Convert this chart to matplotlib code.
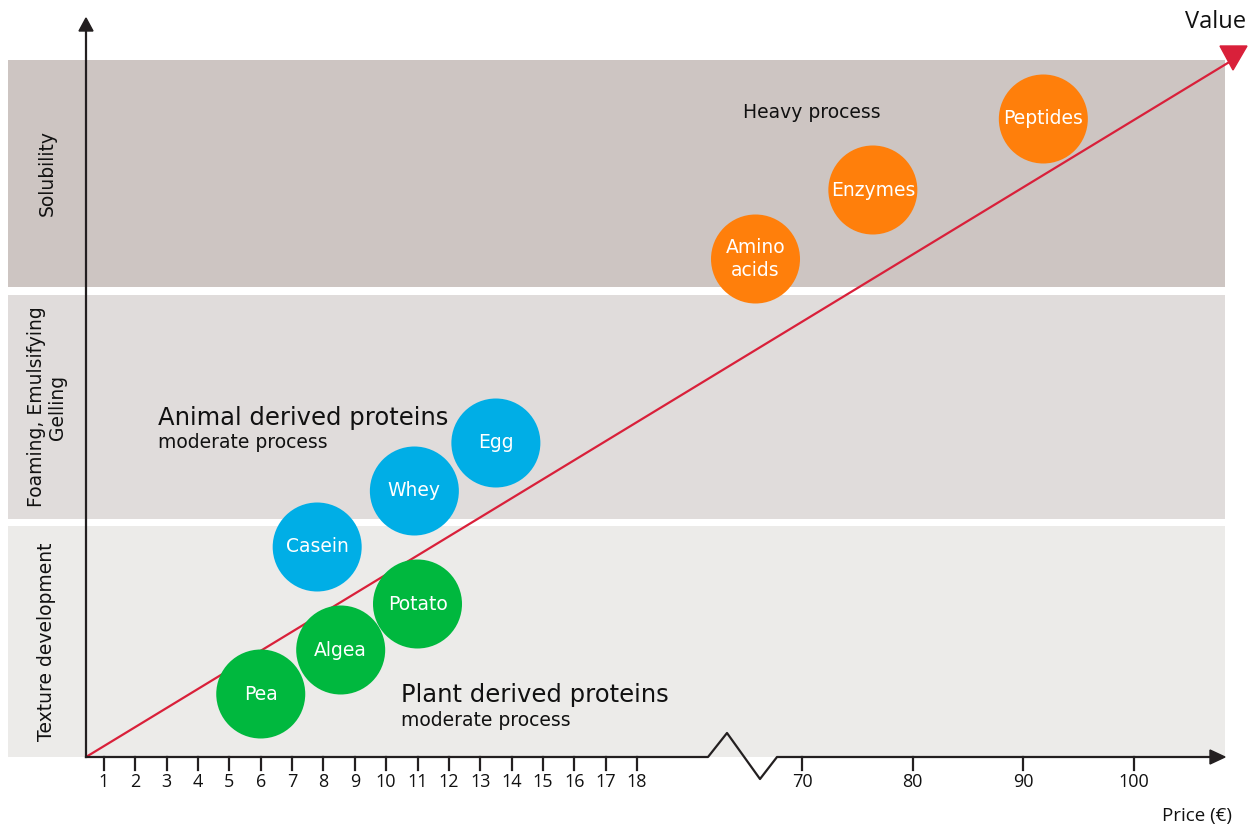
import numpy as np
import matplotlib.pyplot as plt
from matplotlib.patches import Circle, Polygon, Rectangle

# tick values on the broken price axis
low_ticks = list(range(1, 19))
high_ticks = [70, 80, 90, 100]

# proteins: name, price, value level, group
names = ['Pea', 'Algea', 'Potato', 'Casein', 'Whey', 'Egg',
         'Amino\nacids', 'Enzymes', 'Peptides']
prices = [6, 8.55, 11, 7.8, 10.9, 13.5, 65.8, 76.4, 91.8]
values = [63, 107, 153, 210, 266, 314, 498, 567, 638]
groups = ['plant', 'plant', 'plant', 'animal', 'animal', 'animal',
          'heavy', 'heavy', 'heavy']
colors = {'plant': '#00b83e', 'animal': '#00aee6', 'heavy': '#ff7f0b'}

# functional bands (value range), label
band_lo = [0, 238, 470]
band_hi = [231, 462, 697]
band_col = ['#ecebe9', '#e0dcdb', '#cdc5c2']
band_lab = ['Texture development', 'Foaming, Emulsifying\nGelling', 'Solubility']

W, H = 1251, 826
Y0 = 757      # pixel row of the price axis
X0 = 86       # pixel column of the value axis


def px(p):
    # piecewise price scale: 1..18 on the left, 70..100 after the break
    p = np.asarray(p, dtype=float)
    return np.where(p <= 30, 104 + (p - 1) * 31.35, 802 + (p - 70) * 11.07)


def py(v):
    return Y0 - np.asarray(v, dtype=float)


fig = plt.figure(figsize=(W / 100, H / 100), dpi=100)
ax = fig.add_axes([0, 0, 1, 1])
ax.set_xlim(0, W)
ax.set_ylim(H, 0)
ax.axis('off')

# background bands
for lo, hi, c, lab in zip(band_lo, band_hi, band_col, band_lab):
    ax.add_patch(Rectangle((8, py(hi)), 1217, hi - lo, color=c, zorder=0, lw=0))
    ax.text(47, py((lo + hi) / 2), lab, rotation=90, ha='center', va='center',
            fontsize=13.5, color='#111111', family='DejaVu Sans',
            linespacing=1.1, multialignment='center', zorder=4)

# red value line with its marker
ax.plot([X0, 1231], [Y0, 61], color='#d9203a', lw=1.6, zorder=1,
        solid_capstyle='butt')
ax.add_patch(Polygon([[1220, 46], [1247, 46], [1233, 70]], closed=True,
                     color='#d9203a', zorder=1))

# value axis
ax.plot([X0, X0], [Y0, 30], color='#231f20', lw=1.6, zorder=2)
ax.add_patch(Polygon([[79, 31], [93, 31], [86, 18]], closed=True,
                     color='#231f20', zorder=2))

# price axis with break
ax.plot([X0, 708, 727, 760, 777, 1212], [Y0, Y0, 733, 779, Y0, Y0],
        color='#231f20', lw=1.6, zorder=2)
ax.add_patch(Polygon([[1210, 750], [1210, 764], [1225, 757]], closed=True,
                     color='#231f20', zorder=2))

for t in low_ticks + high_ticks:
    x = float(px(t))
    ax.plot([x, x], [Y0, 770], color='#231f20', lw=1.6, zorder=2)
    ax.text(x, 782, str(t), ha='center', va='center', fontsize=13,
            family='Open Sans', color='#111111')

ax.text(1216, 22, 'Value', ha='center', va='center', fontsize=17,
        family='Open Sans', color='#111111')
ax.text(1197, 816, 'Price (€)', ha='center', va='center', fontsize=13.5,
        family='Open Sans', color='#111111')

# bubbles
for n, p, v, g in zip(names, prices, values, groups):
    cx, cy = float(px(p)), float(py(v))
    ax.add_patch(Circle((cx, cy), 44.5, color=colors[g], lw=0, zorder=3))
    ax.text(cx, cy, n, ha='center', va='center', fontsize=13.5, color='white',
            family='DejaVu Sans', linespacing=1.3, zorder=4)

# group captions
ax.text(158, 418, 'Animal derived proteins', fontsize=17.5, va='center',
        family='DejaVu Sans', color='#111111')
ax.text(158, 442, 'moderate process', fontsize=13.5, va='center',
        family='DejaVu Sans', color='#111111')
ax.text(401, 695, 'Plant derived proteins', fontsize=17.5, va='center',
        family='DejaVu Sans', color='#111111')
ax.text(401, 720, 'moderate process', fontsize=13.5, va='center',
        family='DejaVu Sans', color='#111111')
ax.text(812, 113, 'Heavy process', fontsize=13.5, ha='center', va='center',
        family='DejaVu Sans', color='#111111')

fig.savefig('out.png', dpi=100)
